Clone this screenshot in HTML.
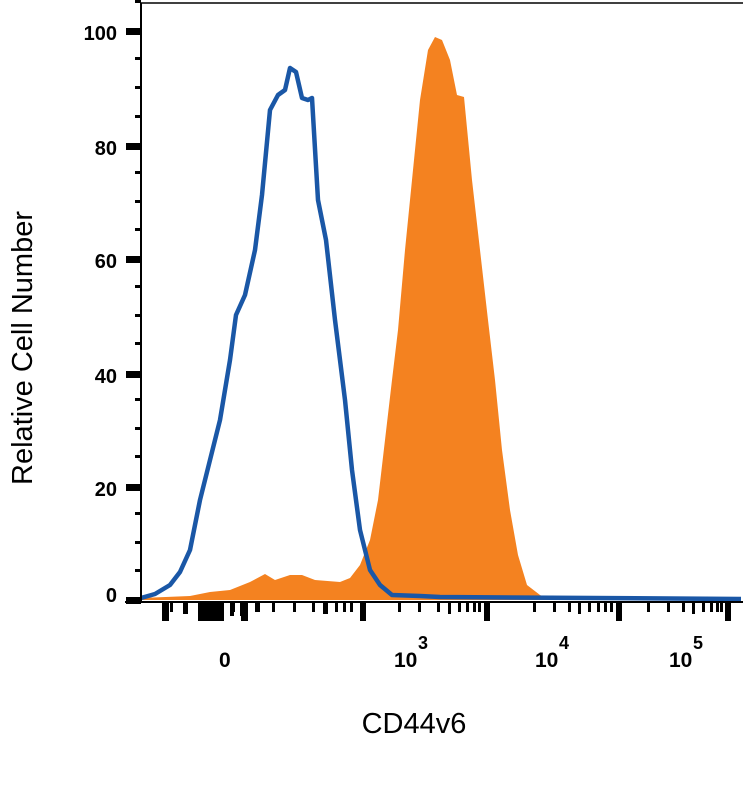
<!DOCTYPE html>
<html><head><style>body{margin:0;background:#fff}svg{display:block}</style></head><body>
<svg width="743" height="788" viewBox="0 0 743 788" font-family="Liberation Sans, sans-serif">
<rect width="743" height="788" fill="#fff"/>
<path d="M141,598 L190,596 L210,592 L230,590 L250,582 L265,574 L275,580 L290,575 L302,575 L315,580 L340,582 L350,578 L360,565 L370,540 L378,500 L385,440 L392,380 L398,330 L405,250 L412,180 L420,100 L428,50 L435,37 L442,40 L450,60 L457,95 L464,97 L472,180 L480,250 L488,320 L495,380 L502,450 L510,510 L518,555 L527,585 L540,595 L550,600 L141,600 Z" fill="#f48220"/>
<polyline fill="none" stroke="#1a57a6" stroke-width="4.5" stroke-linejoin="round" points="141,598 155,594 170,585 180,572 190,550 200,500 210,460 220,420 230,360 236,315 245,295 255,250 262,195 270,110 278,95 285,90 290,68 296,72 302,98 308,100 312,98 318,200 326,240 335,320 345,400 352,470 360,530 370,570 380,585 392,595 420,596 440,597 741,599"/>
<g stroke="#000" fill="none">
<line x1="141" y1="3" x2="141" y2="602" stroke-width="2"/>
<line x1="141" y1="3" x2="743" y2="3" stroke-width="1.5"/>
<line x1="125" y1="602" x2="743" y2="602" stroke-width="2"/>
</g>
<g fill="#000">
<rect x="126" y="28" width="15" height="7"/><rect x="126" y="143" width="15" height="7"/><rect x="126" y="256" width="15" height="7"/><rect x="126" y="371" width="15" height="7"/><rect x="126" y="484" width="15" height="7"/><rect x="126" y="597" width="15" height="7"/>
<rect x="135" y="0" width="6" height="3"/>
<rect x="135" y="57" width="6" height="3"/><rect x="135" y="86" width="6" height="3"/><rect x="135" y="115" width="6" height="3"/>
<rect x="135" y="171" width="6" height="3"/><rect x="135" y="200" width="6" height="3"/><rect x="135" y="228" width="6" height="3"/>
<rect x="135" y="285" width="6" height="3"/><rect x="135" y="314" width="6" height="3"/><rect x="135" y="342" width="6" height="3"/>
<rect x="135" y="398" width="6" height="3"/><rect x="135" y="427" width="6" height="3"/><rect x="135" y="455" width="6" height="3"/>
<rect x="135" y="512" width="6" height="3"/><rect x="135" y="541" width="6" height="3"/><rect x="135" y="569" width="6" height="3"/>
<rect x="162" y="602" width="7" height="19"/><rect x="170" y="602" width="3" height="10"/><rect x="183" y="602" width="5" height="12"/><rect x="198" y="602" width="26" height="19"/><rect x="230" y="602" width="5" height="10"/><rect x="240" y="602" width="4" height="10"/><rect x="255" y="602" width="5" height="10"/><rect x="240" y="602" width="3" height="14"/><rect x="230" y="602" width="4" height="14"/><rect x="241" y="602" width="7" height="19"/>
<rect x="272" y="602" width="3" height="10"/><rect x="293" y="602" width="3" height="10"/><rect x="312" y="602" width="3" height="10"/><rect x="323" y="602" width="5" height="12"/><rect x="335" y="602" width="3" height="10"/><rect x="343" y="602" width="3" height="10"/><rect x="350" y="602" width="3" height="10"/><rect x="360" y="602" width="6" height="19"/>
<rect x="398" y="602" width="3" height="10"/><rect x="418" y="602" width="3" height="10"/><rect x="437" y="602" width="3" height="10"/><rect x="448" y="602" width="3" height="12"/><rect x="458" y="602" width="3" height="10"/><rect x="466" y="602" width="3" height="10"/><rect x="473" y="602" width="3" height="10"/><rect x="478" y="602" width="3" height="10"/><rect x="484" y="602" width="6" height="19"/>
<rect x="533" y="602" width="3" height="10"/><rect x="553" y="602" width="3" height="10"/><rect x="568" y="602" width="3" height="10"/><rect x="578" y="602" width="3" height="12"/><rect x="588" y="602" width="3" height="10"/><rect x="597" y="602" width="3" height="10"/><rect x="604" y="602" width="3" height="10"/><rect x="610" y="602" width="3" height="10"/><rect x="616" y="602" width="6" height="19"/>
<rect x="647" y="602" width="3" height="10"/><rect x="667" y="602" width="3" height="10"/><rect x="682" y="602" width="3" height="10"/><rect x="692" y="602" width="3" height="12"/><rect x="702" y="602" width="3" height="10"/><rect x="710" y="602" width="3" height="10"/><rect x="716" y="602" width="3" height="10"/><rect x="720" y="602" width="3" height="10"/><rect x="725" y="602" width="6" height="19"/>
</g>
<g font-size="20" font-weight="bold" text-anchor="end">
<text x="117" y="40">100</text><text x="117" y="155">80</text><text x="117" y="268">60</text><text x="117" y="383">40</text><text x="117" y="496">20</text><text x="117" y="602">0</text>
</g>
<g font-size="21" font-weight="bold">
<text x="219" y="667">0</text>
<text x="394" y="667">10</text><text x="418" y="649" font-size="18">3</text>
<text x="535" y="667">10</text><text x="559" y="649" font-size="18">4</text>
<text x="669" y="667">10</text><text x="693" y="649" font-size="18">5</text>
</g>
<text x="414" y="733" font-size="29" text-anchor="middle">CD44v6</text>
<text transform="translate(32,348) rotate(-90)" font-size="29" text-anchor="middle">Relative Cell Number</text>
</svg>
</body></html>
